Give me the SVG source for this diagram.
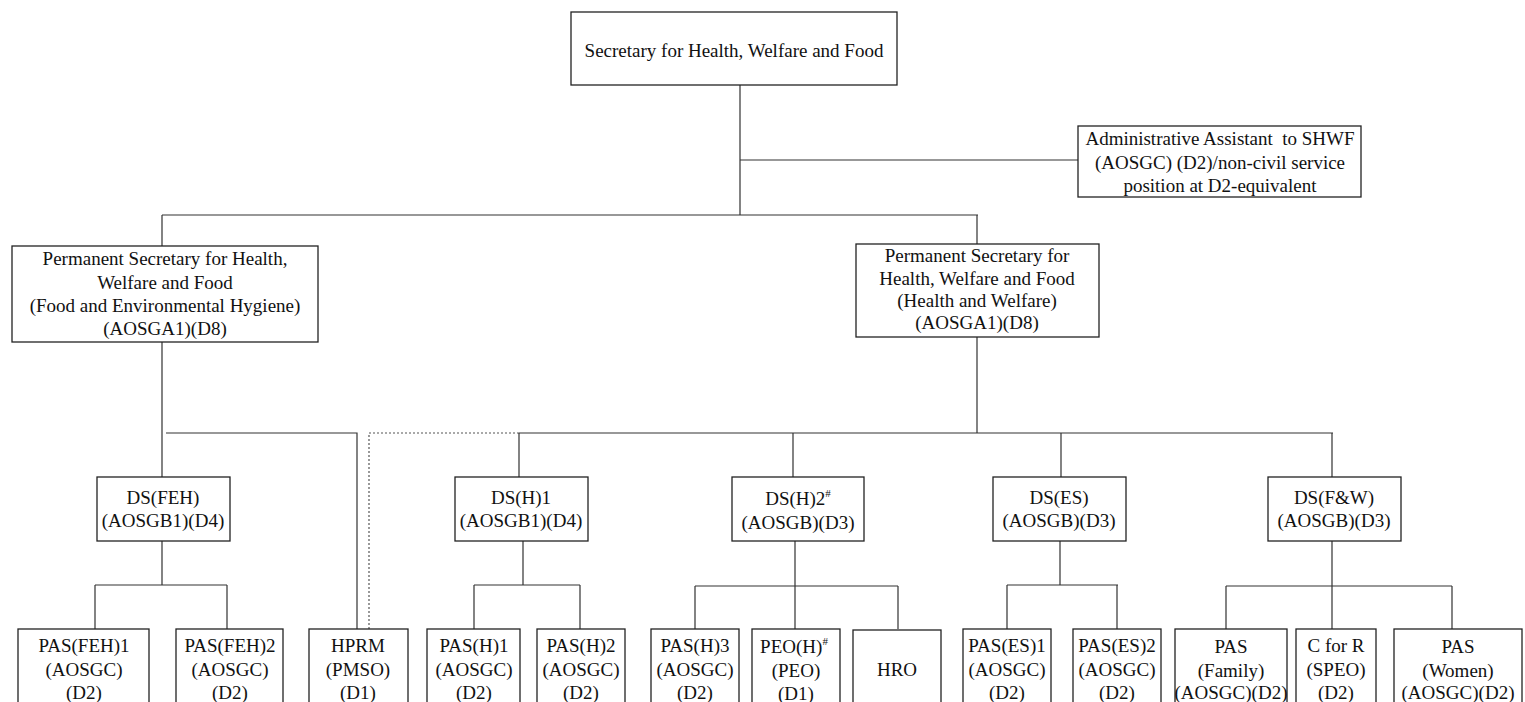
<svg xmlns="http://www.w3.org/2000/svg" width="1525" height="702" viewBox="0 0 1525 702">
<style>
.box{fill:#fff;stroke:#222;stroke-width:1.3}
.ln{stroke:#333;stroke-width:1.2;fill:none}
.dot{stroke:#555;stroke-width:1.2;fill:none;stroke-dasharray:2,2}
text{font-family:"Liberation Serif","Times New Roman",serif;font-size:19px;fill:#111;text-anchor:middle}
.sup{font-size:11px}
</style>
<rect width="1525" height="702" fill="#fff"/>
<g id="connectors">
<path class="ln" d="M740 85V215M740 160H1078M162 215H978M162 215V246M977 215V244"/>
<path class="ln" d="M162 342V477M166 433H357V629"/>
<path class="dot" d="M369 629V433H519"/>
<path class="ln" d="M519 433H1333M977 337V433M519 433V477M793 433V477M1061 433V477M1332 433V477"/>
<path class="ln" d="M162 541V585M95 585H227M95 585V629M227 585V629"/>
<path class="ln" d="M523 541V585M474 585H580M474 585V629M580 585V629"/>
<path class="ln" d="M795 541V586M695 586H898M695 586V629M795 586V629M898 586V629"/>
<path class="ln" d="M1060 541V585M1007 585H1118M1007 585V629M1117 585V629"/>
<path class="ln" d="M1332 541V586M1226 586H1452M1226 586V629M1332 586V629M1452 586V629"/>
</g>
<g id="secretary"><rect class="box" x="571" y="12" width="326" height="73"/><text x="734" y="57">Secretary for Health, Welfare and Food</text></g>
<g id="admin"><rect class="box" x="1078" y="126" width="283" height="71"/><text x="1220" y="145">Administrative Assistant&#160; to SHWF</text><text x="1220" y="169">(AOSGC) (D2)/non-civil service</text><text x="1220" y="192">position at D2-equivalent</text></g>
<g id="ps-feh"><rect class="box" x="12" y="246" width="306" height="96"/><text x="165" y="265">Permanent Secretary for Health,</text><text x="165" y="289">Welfare and Food</text><text x="165" y="312">(Food and Environmental Hygiene)</text><text x="165" y="335">(AOSGA1)(D8)</text></g>
<g id="ps-hw"><rect class="box" x="856" y="244" width="243" height="93"/><text x="977" y="262">Permanent Secretary for</text><text x="977" y="285">Health, Welfare and Food</text><text x="977" y="307">(Health and Welfare)</text><text x="977" y="329">(AOSGA1)(D8)</text></g>
<g id="ds-feh"><rect class="box" x="97" y="477" width="133" height="64"/><text x="163" y="504">DS(FEH)</text><text x="163" y="527">(AOSGB1)(D4)</text></g>
<g id="ds-h1"><rect class="box" x="455" y="477" width="133" height="64"/><text x="521" y="504">DS(H)1</text><text x="521" y="527">(AOSGB1)(D4)</text></g>
<g id="ds-h2"><rect class="box" x="732" y="477" width="132" height="64"/><text x="798" y="505">DS(H)2<tspan class="sup" dy="-8">#</tspan></text><text x="798" y="529">(AOSGB)(D3)</text></g>
<g id="ds-es"><rect class="box" x="993" y="477" width="133" height="64"/><text x="1059" y="504">DS(ES)</text><text x="1059" y="527">(AOSGB)(D3)</text></g>
<g id="ds-fw"><rect class="box" x="1268" y="477" width="133" height="64"/><text x="1334" y="504">DS(F&amp;W)</text><text x="1334" y="527">(AOSGB)(D3)</text></g>
<g id="pas-feh1"><rect class="box" x="18" y="629" width="131" height="80"/><text x="84" y="652">PAS(FEH)1</text><text x="84" y="676">(AOSGC)</text><text x="84" y="699">(D2)</text></g>
<g id="pas-feh2"><rect class="box" x="176" y="629" width="107" height="80"/><text x="230" y="652">PAS(FEH)2</text><text x="230" y="676">(AOSGC)</text><text x="230" y="699">(D2)</text></g>
<g id="hprm"><rect class="box" x="309" y="629" width="99" height="80"/><text x="358" y="652">HPRM</text><text x="358" y="676">(PMSO)</text><text x="358" y="699">(D1)</text></g>
<g id="pas-h1"><rect class="box" x="427" y="629" width="93" height="80"/><text x="474" y="652">PAS(H)1</text><text x="474" y="676">(AOSGC)</text><text x="474" y="699">(D2)</text></g>
<g id="pas-h2"><rect class="box" x="537" y="629" width="88" height="80"/><text x="581" y="652">PAS(H)2</text><text x="581" y="676">(AOSGC)</text><text x="581" y="699">(D2)</text></g>
<g id="pas-h3"><rect class="box" x="651" y="629" width="88" height="80"/><text x="695" y="652">PAS(H)3</text><text x="695" y="676">(AOSGC)</text><text x="695" y="699">(D2)</text></g>
<g id="peo-h"><rect class="box" x="752" y="629" width="88" height="80"/><text x="794" y="653">PEO(H)<tspan class="sup" dy="-8">#</tspan></text><text x="796" y="677">(PEO)</text><text x="796" y="700">(D1)</text></g>
<g id="hro"><rect class="box" x="853" y="630" width="88" height="80"/><text x="897" y="676">HRO</text></g>
<g id="pas-es1"><rect class="box" x="963" y="629" width="88" height="80"/><text x="1007" y="652">PAS(ES)1</text><text x="1007" y="676">(AOSGC)</text><text x="1007" y="699">(D2)</text></g>
<g id="pas-es2"><rect class="box" x="1073" y="629" width="88" height="80"/><text x="1117" y="652">PAS(ES)2</text><text x="1117" y="676">(AOSGC)</text><text x="1117" y="699">(D2)</text></g>
<g id="pas-family"><rect class="box" x="1175" y="629" width="112" height="80"/><text x="1231" y="653">PAS</text><text x="1231" y="677">(Family)</text><text x="1231" y="699">(AOSGC)(D2)</text></g>
<g id="c-for-r"><rect class="box" x="1296" y="629" width="80" height="80"/><text x="1336" y="652">C for R</text><text x="1336" y="676">(SPEO)</text><text x="1336" y="699">(D2)</text></g>
<g id="pas-women"><rect class="box" x="1394" y="629" width="128" height="80"/><text x="1458" y="653">PAS</text><text x="1458" y="677">(Women)</text><text x="1458" y="699">(AOSGC)(D2)</text></g>
</svg>
